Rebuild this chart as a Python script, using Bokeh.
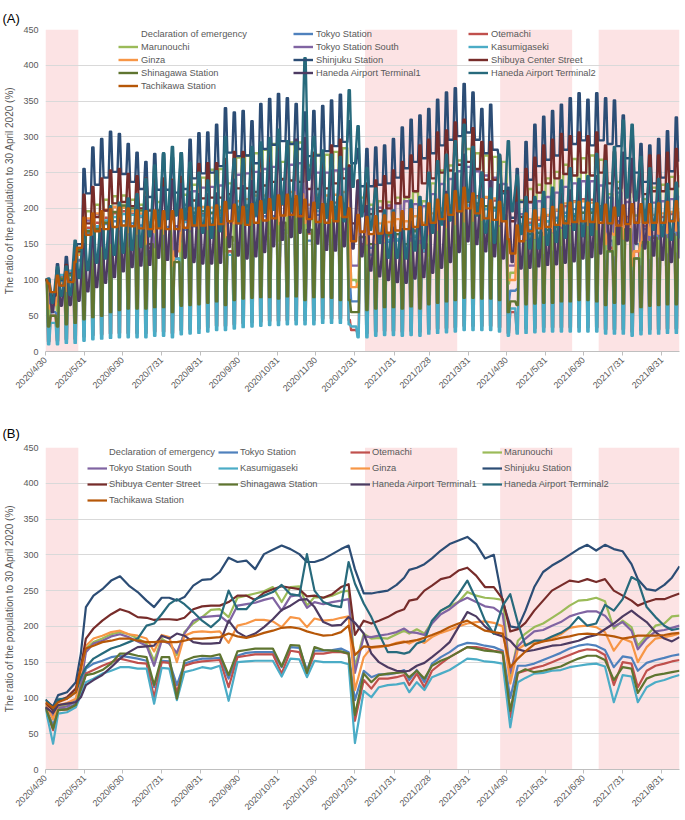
import math
import pandas as pd
from bokeh.plotting import figure
from bokeh.models import Legend, LegendItem, FixedTicker, Range1d
from bokeh.layouts import column
from bokeh.embed import file_html
from bokeh.resources import INLINE

# ---------------- data ----------------
start_date = "2020/4/30"
last_day = 502  # days after 2020/4/30 (2021/9/14)

tick_labels = ["2020/4/30", "2020/5/31", "2020/6/30", "2020/7/31", "2020/8/31", "2020/9/30",
               "2020/10/31", "2020/11/30", "2020/12/31", "2021/1/31", "2021/2/28", "2021/3/31",
               "2021/4/30", "2021/5/31", "2021/6/30", "2021/7/31", "2021/8/31"]

emergency_start = ["2020/4/30", "2021/1/8", "2021/4/25", "2021/7/12"]
emergency_end = ["2020/5/25", "2021/3/21", "2021/6/20", "2021/9/30"]

names = ["Tokyo Station", "Otemachi", "Marunouchi", "Tokyo Station South", "Kasumigaseki", "Ginza",
         "Shinjuku Station", "Shibuya Center Street", "Shinagawa Station", "Haneda Airport Terminal1",
         "Haneda Airport Terminal2", "Tachikawa Station"]
colors = ["#4F81BD", "#C0504D", "#9BBB59", "#8064A2", "#4BACC6", "#F79646",
          "#2C4D75", "#772C2A", "#5F7530", "#4D3B62", "#276A7C", "#B65708"]

# ---- panel (B): 7-day smoothed values, read at these day offsets ----
b_day = [0, 6, 10, 17, 24, 28, 32, 38, 45, 52, 59, 66, 73, 80, 86, 92, 98, 104, 110, 117,
         124, 131, 138, 145, 152, 159, 166, 173, 180, 187, 194, 201, 207, 213, 220, 227, 234, 240, 245, 252,
         258, 264, 271, 278, 284, 288, 294, 300, 306, 313, 320, 327, 334, 341, 348, 355, 362, 368, 374, 380,
         387, 394, 401, 408, 415, 422, 429, 436, 443, 450, 457, 464, 469, 476, 483, 490, 496, 502]

b_tokyo_station = [87, 62, 84, 85, 92, 111, 141, 148, 152, 157, 159, 157, 155, 152, 115, 152, 151, 118, 148, 152,
                   155, 155, 156, 127, 159, 163, 164, 164, 164, 143, 171, 170, 139, 166, 166, 167, 169, 164, 97, 138,
                   129, 133, 133, 135, 139, 125, 139, 122, 148, 157, 164, 173, 177, 176, 173, 171, 166, 100, 145, 145,
                   148, 153, 158, 163, 169, 173, 175, 173, 167, 143, 158, 156, 138, 149, 153, 156, 159, 161]
b_otemachi = [86, 55, 83, 84, 90, 108, 134, 139, 145, 150, 155, 152, 149, 148, 101, 150, 149, 108, 145, 149,
              151, 152, 153, 115, 157, 159, 161, 161, 161, 134, 166, 164, 134, 162, 162, 164, 164, 162, 68, 125,
              113, 127, 127, 129, 132, 118, 134, 115, 138, 148, 157, 164, 171, 171, 169, 166, 164, 73, 135, 138,
              142, 145, 150, 155, 160, 165, 168, 167, 160, 118, 150, 148, 115, 138, 145, 148, 151, 153]
b_marunouchi = [90, 74, 87, 90, 97, 120, 169, 178, 183, 189, 192, 189, 183, 176, 152, 183, 176, 160, 192, 204,
                213, 223, 224, 213, 240, 243, 246, 249, 255, 234, 255, 256, 229, 241, 240, 243, 248, 250, 143, 190,
                183, 184, 183, 189, 194, 190, 196, 190, 206, 222, 228, 234, 248, 243, 240, 239, 237, 130, 180, 190,
                199, 204, 212, 220, 229, 236, 237, 240, 235, 197, 208, 199, 173, 187, 201, 204, 214, 215]
b_tokyo_station_south = [88, 76, 86, 88, 96, 118, 164, 176, 180, 186, 189, 185, 179, 173, 145, 180, 176, 163, 190, 208,
                         213, 214, 215, 205, 229, 231, 233, 237, 240, 222, 242, 244, 226, 234, 231, 234, 236, 238, 135, 186,
                         185, 187, 189, 192, 197, 192, 191, 188, 204, 217, 224, 234, 240, 234, 228, 226, 217, 135, 172, 183,
                         193, 195, 201, 206, 214, 218, 221, 221, 215, 200, 206, 194, 168, 183, 193, 195, 198, 201]
b_kasumigaseki = [85, 36, 78, 80, 87, 104, 122, 127, 134, 138, 143, 143, 141, 141, 92, 142, 141, 97, 136, 139,
                  143, 141, 145, 96, 150, 151, 152, 152, 152, 130, 155, 154, 129, 152, 150, 150, 150, 147, 37, 110,
                  101, 115, 118, 119, 121, 108, 122, 111, 129, 134, 139, 147, 155, 154, 151, 150, 148, 59, 122, 128,
                  134, 135, 138, 139, 143, 145, 147, 148, 144, 94, 132, 130, 94, 115, 122, 125, 129, 132]
b_ginza = [92, 70, 90, 93, 99, 134, 173, 183, 187, 192, 194, 189, 187, 183, 165, 188, 185, 150, 187, 192,
           193, 192, 193, 177, 201, 204, 209, 209, 207, 199, 213, 211, 199, 211, 208, 209, 212, 214, 111, 157,
           170, 171, 173, 177, 179, 176, 181, 177, 185, 191, 195, 200, 204, 206, 207, 205, 200, 120, 168, 175,
           177, 179, 183, 189, 198, 200, 201, 199, 192, 166, 183, 178, 150, 171, 183, 185, 187, 190]
b_shinjuku = [97, 88, 104, 108, 122, 162, 227, 243, 252, 264, 270, 257, 248, 236, 227, 240, 240, 236, 241, 257,
              265, 266, 276, 296, 290, 292, 280, 301, 307, 313, 308, 301, 290, 290, 294, 301, 308, 313, 280, 246,
              246, 248, 250, 258, 268, 279, 282, 287, 295, 306, 315, 320, 325, 315, 295, 300, 235, 200, 198, 222,
              255, 276, 285, 292, 300, 308, 314, 306, 314, 308, 305, 287, 266, 252, 250, 258, 268, 284]
b_shibuya = [93, 83, 96, 101, 113, 143, 183, 197, 208, 217, 224, 220, 213, 212, 209, 210, 210, 209, 212, 224,
             228, 229, 229, 234, 243, 243, 237, 247, 252, 256, 254, 252, 242, 243, 240, 245, 255, 259, 188, 208,
             204, 208, 213, 220, 224, 236, 238, 250, 257, 266, 269, 278, 282, 271, 255, 255, 238, 193, 196, 205,
             222, 236, 250, 257, 264, 262, 266, 262, 266, 250, 243, 236, 229, 234, 238, 238, 242, 246]
b_shinagawa = [87, 57, 83, 84, 90, 113, 132, 134, 139, 148, 162, 162, 159, 157, 118, 157, 157, 99, 152, 157,
               159, 158, 161, 132, 165, 167, 169, 169, 169, 144, 174, 173, 135, 171, 167, 166, 165, 162, 76, 134,
               122, 132, 134, 135, 136, 129, 138, 127, 145, 152, 157, 164, 171, 169, 166, 165, 163, 82, 135, 140,
               136, 138, 141, 144, 150, 155, 159, 159, 153, 125, 143, 141, 107, 127, 132, 134, 136, 138]
b_haneda_t1 = [87, 79, 90, 92, 94, 101, 118, 125, 132, 143, 155, 164, 171, 172, 173, 187, 183, 190, 187, 178,
               176, 176, 177, 208, 192, 185, 190, 199, 210, 223, 229, 237, 238, 227, 206, 201, 202, 213, 205, 190,
               162, 150, 143, 138, 137, 138, 145, 149, 157, 167, 178, 199, 220, 214, 200, 190, 186, 180, 168, 165,
               167, 170, 173, 174, 177, 180, 185, 188, 196, 204, 214, 222, 215, 206, 192, 183, 179, 185]
b_haneda_t2 = [98, 85, 98, 99, 108, 129, 143, 155, 162, 169, 173, 178, 183, 201, 204, 217, 231, 238, 231, 220,
               208, 199, 210, 250, 224, 224, 238, 243, 248, 258, 245, 243, 301, 250, 234, 229, 227, 290, 260, 232,
               213, 190, 164, 164, 162, 164, 176, 180, 208, 222, 229, 245, 264, 238, 208, 190, 229, 245, 205, 173,
               180, 180, 186, 191, 199, 213, 201, 204, 230, 222, 238, 269, 264, 227, 213, 201, 195, 197]
b_tachikawa = [94, 86, 94, 99, 108, 143, 169, 173, 178, 180, 183, 183, 180, 178, 178, 179, 178, 178, 180, 183,
               183, 184, 185, 190, 186, 184, 187, 191, 194, 198, 199, 197, 193, 190, 187, 188, 192, 201, 160, 172,
               171, 172, 173, 176, 178, 179, 181, 184, 188, 193, 199, 204, 208, 201, 194, 192, 190, 143, 155, 165,
               175, 179, 181, 184, 186, 189, 190, 189, 188, 186, 183, 185, 187, 187, 187, 188, 190, 191]

# ---- panel (A): daily values, read per week.
# City sites: weekday level (Thu/Fri 4/30-5/1, then each Mon-Fri) and weekend level (each Sat-Sun).
a_weekday_tokyo_station = [100, 55, 97, 101, 128, 166, 173, 178, 182, 182, 179, 176, 140, 175, 174, 130, 170, 175, 178, 178, 179,
                           140, 183, 187, 189, 189, 189, 160, 197, 196, 155, 191, 191, 193, 191, 70, 160, 145, 153, 153, 155,
                           145, 160, 140, 170, 181, 189, 199, 204, 202, 199, 197, 185, 85, 167, 170, 176, 182, 187, 194, 199,
                           201, 199, 192, 155, 182, 179, 150, 171, 176, 179, 183, 185]
a_weekend_tokyo_station = [40, 50, 53, 67, 86, 90, 93, 95, 95, 94, 92, 90, 91, 91, 80, 89, 91, 93, 93, 94,
                           85, 95, 98, 98, 98, 98, 95, 103, 102, 95, 100, 100, 101, 100, 100, 70, 78, 80, 80, 81,
                           78, 83, 75, 89, 94, 98, 104, 106, 106, 104, 103, 100, 70, 87, 89, 92, 95, 98, 101, 104,
                           105, 104, 100, 90, 95, 94, 85, 89, 92, 94, 95, 97]
a_weekday_otemachi = [100, 50, 105, 110, 137, 173, 180, 187, 193, 196, 192, 188, 145, 190, 189, 130, 184, 189, 192, 193, 194,
                      140, 199, 202, 204, 204, 204, 165, 211, 208, 165, 206, 206, 208, 207, 30, 150, 135, 161, 161, 164,
                      150, 170, 140, 175, 188, 199, 208, 217, 217, 215, 211, 200, 55, 175, 180, 184, 190, 197, 203, 210,
                      213, 212, 203, 145, 190, 188, 140, 175, 184, 188, 192, 194]
a_weekend_otemachi = [14, 15, 17, 18, 21, 23, 24, 25, 26, 26, 26, 26, 28, 28, 26, 30, 31, 32, 34, 36,
                      36, 38, 40, 41, 42, 43, 43, 44, 44, 44, 44, 46, 46, 46, 44, 26, 26, 28, 29, 29,
                      28, 29, 28, 31, 32, 33, 34, 36, 36, 36, 36, 34, 26, 31, 32, 33, 34, 34, 34, 34,
                      34, 34, 34, 31, 31, 31, 28, 30, 31, 31, 32, 32]
a_weekday_marunouchi = [100, 75, 100, 106, 137, 196, 205, 212, 217, 218, 212, 205, 180, 209, 201, 175, 219, 233, 243, 254, 255,
                        235, 271, 274, 277, 282, 290, 265, 292, 292, 260, 275, 275, 279, 284, 100, 215, 205, 210, 209, 215,
                        215, 223, 210, 235, 253, 260, 267, 283, 277, 274, 272, 265, 110, 211, 227, 233, 242, 251, 261, 269,
                        270, 274, 268, 220, 237, 227, 190, 213, 229, 233, 244, 245]
a_weekend_marunouchi = [50, 57, 60, 78, 112, 117, 121, 124, 124, 121, 117, 110, 119, 114, 104, 125, 133, 138, 145, 146,
                        140, 155, 156, 158, 161, 165, 155, 166, 166, 150, 157, 157, 159, 162, 150, 90, 119, 120, 119, 123,
                        125, 127, 124, 134, 144, 148, 152, 161, 158, 156, 155, 154, 95, 120, 129, 133, 138, 143, 149, 153,
                        154, 156, 153, 130, 135, 129, 115, 122, 131, 133, 139, 140]
a_weekday_tokyo_station_south = [100, 80, 94, 99, 127, 183, 192, 197, 202, 201, 196, 190, 165, 194, 190, 175, 205, 224, 229, 230, 232,
                                 220, 247, 249, 251, 255, 258, 240, 261, 263, 243, 250, 250, 253, 255, 120, 200, 199, 201, 204, 207,
                                 210, 206, 203, 220, 234, 241, 252, 258, 252, 246, 243, 234, 120, 192, 208, 210, 216, 222, 230, 235,
                                 238, 238, 232, 215, 222, 209, 180, 197, 208, 210, 213, 216]
a_weekend_tokyo_station_south = [62, 70, 74, 96, 138, 144, 148, 152, 151, 147, 143, 135, 146, 143, 132, 154, 168, 173, 173, 174,
                                 170, 185, 187, 189, 192, 194, 185, 196, 198, 185, 188, 188, 190, 192, 185, 120, 150, 151, 153, 155,
                                 158, 155, 152, 165, 176, 181, 190, 194, 190, 185, 183, 176, 120, 144, 156, 158, 163, 167, 173, 177,
                                 179, 179, 174, 165, 167, 157, 140, 148, 156, 158, 160, 163]
a_weekday_kasumigaseki = [100, 40, 107, 113, 141, 169, 175, 183, 188, 192, 191, 189, 140, 190, 188, 130, 181, 185, 190, 186, 191,
                          135, 197, 198, 199, 198, 198, 170, 202, 200, 170, 196, 194, 194, 191, 35, 140, 135, 152, 156, 157,
                          140, 162, 140, 170, 177, 184, 195, 205, 204, 199, 198, 185, 60, 165, 177, 178, 182, 183, 189, 192,
                          194, 196, 190, 140, 175, 172, 130, 151, 161, 165, 170, 174]
a_weekend_kasumigaseki = [10, 10, 12, 12, 15, 17, 18, 19, 20, 20, 20, 20, 22, 22, 20, 24, 25, 26, 28, 30,
                          30, 32, 34, 35, 36, 37, 37, 38, 38, 38, 38, 40, 40, 40, 38, 20, 20, 22, 23, 23,
                          22, 23, 22, 25, 26, 27, 28, 30, 30, 30, 30, 28, 22, 25, 26, 27, 28, 28, 28, 28,
                          28, 28, 28, 25, 25, 25, 22, 24, 25, 25, 26, 26]
a_weekday_ginza = [100, 65, 95, 100, 135, 186, 193, 198, 202, 201, 196, 193, 180, 196, 193, 140, 195, 200, 202, 201, 202,
                   180, 210, 213, 218, 218, 216, 205, 223, 220, 205, 219, 218, 219, 223, 90, 168, 175, 179, 181, 185,
                   182, 189, 180, 193, 200, 204, 209, 213, 215, 216, 214, 205, 100, 178, 185, 187, 191, 198, 207, 209,
                   210, 208, 201, 165, 191, 186, 140, 179, 191, 193, 195, 199]
a_weekend_ginza = [60, 81, 85, 100, 158, 165, 168, 172, 171, 167, 165, 150, 167, 165, 120, 166, 171, 172, 171, 172,
                   160, 179, 182, 186, 186, 184, 178, 190, 188, 180, 187, 186, 187, 190, 180, 95, 151, 152, 154, 158,
                   158, 161, 158, 165, 170, 174, 178, 182, 183, 184, 182, 178, 100, 151, 158, 159, 163, 168, 176, 178,
                   179, 177, 171, 150, 163, 158, 120, 152, 163, 165, 166, 169]
a_weekday_shinjuku = [100, 83, 100, 108, 150, 221, 233, 243, 251, 248, 237, 227, 216, 226, 226, 222, 227, 242, 249, 250, 259,
                      278, 273, 274, 263, 283, 289, 294, 290, 283, 273, 274, 280, 287, 293, 263, 231, 231, 233, 235, 243,
                      256, 265, 270, 277, 288, 296, 301, 306, 296, 277, 282, 221, 187, 209, 240, 259, 268, 274, 282, 290,
                      295, 288, 295, 290, 287, 270, 250, 237, 235, 243, 252, 267]
a_weekend_shinjuku = [101, 122, 132, 140, 255, 285, 297, 307, 304, 290, 278, 265, 276, 276, 271, 277, 296, 305, 306, 317,
                      340, 334, 336, 322, 346, 353, 360, 354, 346, 334, 336, 343, 351, 359, 322, 283, 283, 285, 288, 297,
                      313, 324, 330, 339, 352, 362, 368, 374, 362, 339, 345, 270, 229, 255, 293, 317, 328, 336, 345, 354,
                      361, 352, 361, 354, 351, 330, 306, 290, 288, 297, 308, 327]
a_weekday_shibuya = [100, 78, 92, 99, 140, 179, 188, 197, 207, 209, 203, 200, 197, 197, 197, 196, 199, 211, 214, 215, 215,
                     220, 228, 228, 223, 232, 237, 241, 239, 237, 227, 227, 228, 235, 242, 179, 196, 192, 196, 200, 207,
                     216, 224, 235, 242, 250, 253, 261, 265, 255, 240, 240, 224, 182, 188, 209, 222, 235, 242, 248, 246,
                     250, 246, 250, 235, 228, 222, 215, 220, 224, 224, 227, 231]
a_weekend_shibuya = [95, 113, 121, 125, 219, 230, 242, 253, 255, 248, 245, 242, 242, 242, 240, 244, 258, 262, 263, 263,
                     269, 279, 279, 273, 284, 290, 294, 292, 290, 278, 278, 279, 288, 296, 260, 239, 235, 239, 245, 253,
                     265, 274, 288, 296, 306, 309, 320, 324, 312, 293, 293, 274, 223, 230, 255, 271, 288, 296, 304, 301,
                     306, 301, 306, 288, 279, 271, 263, 269, 274, 274, 278, 283]
a_weekday_shinagawa = [100, 50, 102, 107, 142, 168, 171, 180, 195, 204, 200, 197, 150, 195, 195, 125, 187, 194, 196, 194, 197,
                       160, 202, 204, 207, 206, 206, 180, 213, 211, 170, 206, 203, 202, 201, 55, 160, 150, 161, 163, 164,
                       150, 168, 150, 177, 186, 192, 201, 209, 207, 203, 201, 190, 70, 166, 164, 166, 170, 174, 182, 189,
                       194, 194, 186, 140, 173, 171, 130, 153, 159, 162, 164, 166]
a_weekend_shinagawa = [35, 35, 38, 40, 45, 48, 50, 55, 58, 60, 60, 60, 62, 62, 55, 64, 65, 66, 68, 70,
                       65, 72, 74, 75, 76, 76, 74, 77, 77, 72, 76, 76, 75, 72, 72, 55, 58, 60, 62, 62,
                       60, 63, 60, 66, 68, 70, 72, 75, 75, 74, 74, 72, 55, 65, 66, 67, 68, 68, 70, 70,
                       72, 72, 70, 65, 68, 67, 55, 62, 64, 65, 66, 66]
a_weekday_tachikawa = [100, 83, 92, 97, 145, 163, 168, 171, 174, 176, 175, 172, 171, 172, 171, 171, 173, 176, 176, 177, 178,
                       182, 179, 177, 180, 183, 186, 190, 191, 189, 185, 181, 180, 182, 188, 154, 167, 164, 165, 166, 169,
                       171, 174, 177, 180, 185, 191, 196, 200, 193, 186, 184, 182, 137, 154, 168, 172, 174, 177, 179, 181,
                       182, 181, 180, 179, 176, 178, 180, 180, 180, 180, 182, 183]
a_weekend_tachikawa = [95, 106, 111, 125, 187, 193, 196, 199, 201, 200, 197, 196, 197, 196, 196, 198, 201, 201, 202, 204,
                       209, 205, 202, 206, 210, 213, 218, 219, 217, 212, 208, 206, 209, 216, 200, 191, 188, 189, 190, 194,
                       196, 199, 202, 207, 212, 219, 224, 229, 221, 213, 211, 209, 157, 176, 193, 197, 199, 202, 205, 208,
                       209, 208, 207, 205, 201, 204, 206, 206, 206, 207, 209, 210]
# Airports: weekend high (each Sat-Sun) and mid-week low (each Tue-Wed).
a_high_haneda_t1 = [99, 114, 116, 126, 150, 160, 171, 186, 200, 210, 215, 216, 234, 229, 238, 234, 223, 220, 220, 221,
                    260, 240, 231, 238, 249, 263, 279, 286, 296, 298, 270, 254, 253, 263, 256, 238, 203, 188, 179, 173,
                    171, 181, 186, 196, 209, 223, 249, 275, 268, 250, 238, 233, 223, 208, 209, 213, 216, 218, 221, 225,
                    231, 235, 245, 255, 268, 278, 269, 258, 240, 229, 224, 231]
a_low_haneda_t1 = [55, 64, 65, 71, 84, 90, 96, 104, 112, 118, 120, 121, 131, 128, 133, 131, 125, 123, 123, 124,
                   146, 134, 130, 133, 139, 147, 156, 160, 166, 167, 151, 142, 141, 147, 144, 133, 113, 105, 100, 97,
                   96, 102, 104, 110, 117, 125, 139, 154, 150, 140, 133, 130, 125, 116, 117, 119, 121, 122, 124, 126,
                   130, 132, 137, 143, 150, 155, 151, 144, 134, 128, 125, 130]
a_high_haneda_t2 = [102, 118, 119, 155, 172, 186, 194, 203, 208, 214, 220, 241, 260, 277, 286, 277, 264, 250, 239, 252,
                    300, 269, 269, 286, 292, 298, 310, 294, 292, 410, 300, 281, 275, 272, 365, 315, 256, 228, 197, 197,
                    194, 211, 216, 250, 266, 275, 294, 317, 286, 250, 228, 275, 294, 246, 216, 216, 223, 229, 239, 256,
                    241, 245, 276, 266, 286, 323, 317, 272, 256, 241, 234, 236]
a_low_haneda_t2 = [68, 78, 79, 103, 114, 124, 130, 135, 138, 142, 146, 161, 174, 185, 190, 185, 176, 166, 159, 168,
                   200, 179, 179, 190, 194, 198, 206, 196, 194, 240, 200, 187, 183, 182, 230, 189, 170, 152, 131, 131,
                   130, 141, 144, 166, 178, 183, 196, 211, 190, 166, 152, 183, 196, 164, 144, 144, 149, 153, 159, 170,
                   161, 163, 184, 178, 190, 215, 211, 182, 170, 161, 156, 158]

b_values = [b_tokyo_station, b_otemachi, b_marunouchi, b_tokyo_station_south, b_kasumigaseki, b_ginza,
            b_shinjuku, b_shibuya, b_shinagawa, b_haneda_t1, b_haneda_t2, b_tachikawa]

# ---------------- helpers ----------------
FONT = "Liberation Sans"
TXT = "#595959"
PINK = "#fce3e4"
T0 = pd.to_datetime(start_date, format="%Y/%m/%d")


def day_of(s):
    return (pd.to_datetime(s, format="%Y/%m/%d") - T0).days


tick_pos = [day_of(s) for s in tick_labels]
em_left = [day_of(s) for s in emergency_start]
em_right = [min(day_of(s) + 1, last_day) for s in emergency_end]


def city_path(weekday, weekend):
    # weekday[0] = Thu/Fri 4/30-5/1, weekend[k] = Sat/Sun, weekday[k+1] = following Mon-Fri
    xs = [0, 1]
    ys = [weekday[0], weekday[0]]
    for k, e in enumerate(weekend):
        sat = 2 + 7 * k
        xs += [sat, sat + 1]
        ys += [e, e]
        mon = 4 + 7 * k
        if mon <= last_day:
            xs += [mon, min(8 + 7 * k, last_day)]
            ys += [weekday[k + 1], weekday[k + 1]]
    return xs, ys


def airport_path(high, low):
    # 4/30 = 100 (reference day), high[k] on Sat/Sun, low[k] on following Tue/Wed
    xs = [0]
    ys = [100]
    for k, (h, lo) in enumerate(zip(high, low)):
        for d, v in ((2 + 7 * k, h), (3 + 7 * k, h), (5 + 7 * k, lo), (6 + 7 * k, lo)):
            if d <= last_day:
                xs.append(d)
                ys.append(v)
    return xs, ys


a_paths = {
    "Tokyo Station": city_path(a_weekday_tokyo_station, a_weekend_tokyo_station),
    "Otemachi": city_path(a_weekday_otemachi, a_weekend_otemachi),
    "Marunouchi": city_path(a_weekday_marunouchi, a_weekend_marunouchi),
    "Tokyo Station South": city_path(a_weekday_tokyo_station_south, a_weekend_tokyo_station_south),
    "Kasumigaseki": city_path(a_weekday_kasumigaseki, a_weekend_kasumigaseki),
    "Ginza": city_path(a_weekday_ginza, a_weekend_ginza),
    "Shinjuku Station": city_path(a_weekday_shinjuku, a_weekend_shinjuku),
    "Shibuya Center Street": city_path(a_weekday_shibuya, a_weekend_shibuya),
    "Shinagawa Station": city_path(a_weekday_shinagawa, a_weekend_shinagawa),
    "Haneda Airport Terminal1": airport_path(a_high_haneda_t1, a_low_haneda_t1),
    "Haneda Airport Terminal2": airport_path(a_high_haneda_t2, a_low_haneda_t2),
    "Tachikawa Station": city_path(a_weekday_tachikawa, a_weekend_tachikawa),
}


def make_fig(frame_h, top, bottom, tag, tag_standoff):
    p = figure(width=685, height=top + frame_h + bottom,
               x_range=Range1d(0, last_day), y_range=Range1d(0, 450),
               output_backend="svg", toolbar_location=None,
               min_border_left=45, min_border_right=6, min_border_top=top, min_border_bottom=bottom)
    p.outline_line_color = None
    p.background_fill_color = "white"
    p.border_fill_color = "white"
    p.title.text = tag
    p.title.align = "left"
    p.title.offset = -43
    p.title.standoff = tag_standoff
    p.title.text_font = FONT
    p.title.text_font_size = "13px"
    p.title.text_font_style = "normal"
    p.title.text_color = "#000000"
    p.xgrid.grid_line_color = None
    p.ygrid.grid_line_color = "#d9d9d9"
    p.ygrid.grid_line_width = 1
    xa = p.xaxis[0]
    xa.ticker = FixedTicker(ticks=tick_pos)
    xa.major_label_overrides = {t: lab for t, lab in zip(tick_pos, tick_labels)}
    xa.major_label_orientation = math.pi / 4
    xa.axis_line_color = "#bfbfbf"
    xa.major_tick_line_color = "#bfbfbf"
    xa.major_tick_out = 4
    xa.major_tick_in = 0
    xa.minor_tick_line_color = None
    xa.minor_tick_out = 0
    xa.major_label_text_font = FONT
    xa.major_label_text_font_size = "9px"
    xa.major_label_text_color = TXT
    xa.major_label_standoff = 3
    ya = p.yaxis[0]
    ya.ticker = FixedTicker(ticks=list(range(0, 451, 50)))
    ya.axis_line_color = None
    ya.major_tick_line_color = None
    ya.minor_tick_line_color = None
    ya.major_tick_out = 0
    ya.major_tick_in = 0
    ya.minor_tick_out = 0
    ya.major_label_text_font = FONT
    ya.major_label_text_font_size = "9px"
    ya.major_label_text_color = TXT
    ya.major_label_standoff = 7
    ya.axis_label = "The ratio of the population to 30 April 2020 (%)"
    ya.axis_label_text_font = FONT
    ya.axis_label_text_font_size = "10px"
    ya.axis_label_text_font_style = "normal"
    ya.axis_label_text_color = TXT
    ya.axis_label_standoff = 5
    p.quad(left=em_left, right=em_right, bottom=0, top=450, fill_color=PINK,
           line_color=None, level="image")
    dummy = p.line(x=[], y=[], line_color=PINK, line_width=7)
    return p, dummy


def add_legend(p, items, x, y, h, standoff):
    leg = Legend(items=items, location=(x, y), orientation="vertical",
                 glyph_width=20, glyph_height=h, label_height=h, spacing=0,
                 padding=0, margin=0, label_standoff=standoff,
                 label_text_font=FONT, label_text_font_size="9.3px", label_text_color=TXT,
                 background_fill_alpha=0, border_line_alpha=0)
    p.add_layout(leg)


decl = "Declaration of emergency"

# ---------------- panel A ----------------
FA = 324
pA, dummyA = make_fig(FA, 29, 47, "(A)", 8)
rA = {}
for nm, col in zip(names, colors):
    xs, ys = a_paths[nm]
    rA[nm] = pA.line(xs, ys, line_color=col, line_width=2.4, line_join="round")

colsA = [
    [(decl, dummyA), ("Marunouchi", rA["Marunouchi"]), ("Ginza", rA["Ginza"]),
     ("Shinagawa Station", rA["Shinagawa Station"]), ("Tachikawa Station", rA["Tachikawa Station"])],
    [("Tokyo Station", rA["Tokyo Station"]), ("Tokyo Station South", rA["Tokyo Station South"]),
     ("Shinjuku Station", rA["Shinjuku Station"]), ("Haneda Airport Terminal1", rA["Haneda Airport Terminal1"])],
    [("Otemachi", rA["Otemachi"]), ("Kasumigaseki", rA["Kasumigaseki"]),
     ("Shibuya Center Street", rA["Shibuya Center Street"]), ("Haneda Airport Terminal2", rA["Haneda Airport Terminal2"])],
]
for cx, col_items in zip([73, 248, 423], colsA):
    items = [LegendItem(label=lab, renderers=[r]) for lab, r in col_items]
    add_legend(pA, items, cx, FA - 13 * len(items), 13, 3)

# ---------------- panel B ----------------
FB = 322
pB, dummyB = make_fig(FB, 47, 49, "(B)", 14)
rB = {}
for nm, col, vals in zip(names, colors, b_values):
    rB[nm] = pB.line(b_day, vals, line_color=col, line_width=2.2, line_join="round")

colsB = [
    [(decl, dummyB), ("Tokyo Station South", rB["Tokyo Station South"]),
     ("Shibuya Center Street", rB["Shibuya Center Street"]), ("Tachikawa Station", rB["Tachikawa Station"])],
    [("Tokyo Station", rB["Tokyo Station"]), ("Kasumigaseki", rB["Kasumigaseki"]),
     ("Shinagawa Station", rB["Shinagawa Station"])],
    [("Otemachi", rB["Otemachi"]), ("Ginza", rB["Ginza"]),
     ("Haneda Airport Terminal1", rB["Haneda Airport Terminal1"])],
    [("Marunouchi", rB["Marunouchi"]), ("Shinjuku Station", rB["Shinjuku Station"]),
     ("Haneda Airport Terminal2", rB["Haneda Airport Terminal2"])],
]
for cx, col_items in zip([42, 173, 305, 437], colsB):
    items = [LegendItem(label=lab, renderers=[r]) for lab, r in col_items]
    add_legend(pB, items, cx, FB + 3 - 16 * len(items), 16, 2)

layout = column(pA, pB, spacing=0)
open("out.html", "w").write(file_html(layout, INLINE))
